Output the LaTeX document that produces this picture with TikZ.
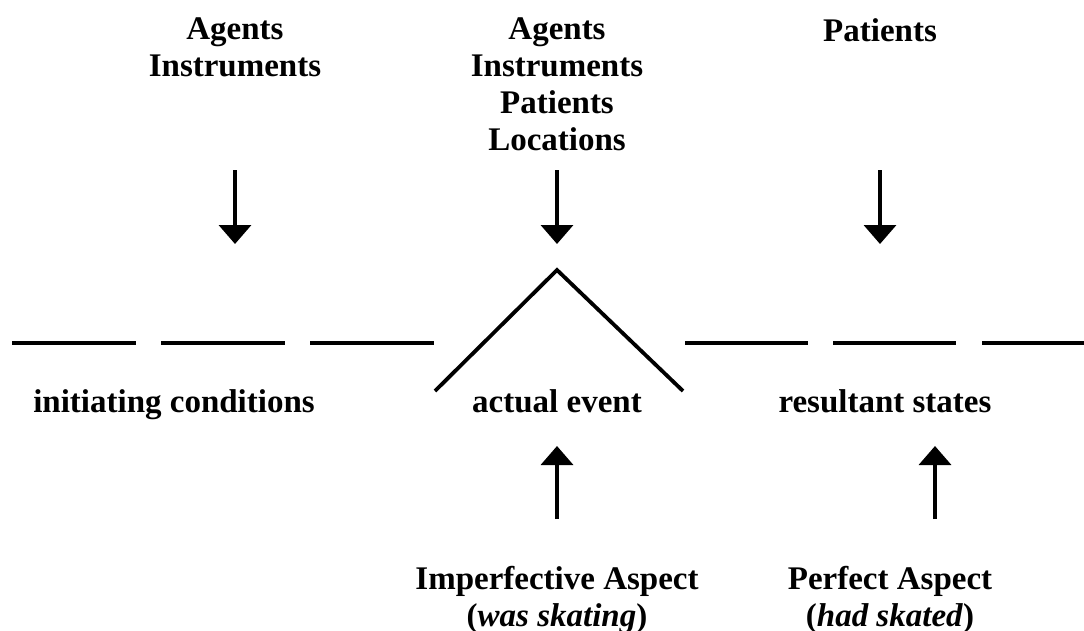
\documentclass[tikz,border=0pt]{standalone}
\usepackage{fontspec}
\setmainfont{Liberation Serif}
\usetikzlibrary{arrows.meta}
\tikzset{
  lbl/.style={font=\bfseries\fontsize{33}{37}\selectfont, align=center, inner sep=0pt},
  timeline/.style={line width=3.8pt},
  pointer/.style={line width=3.6pt, -{Triangle[width=32pt,length=19pt]}},
}
\begin{document}
\begin{tikzpicture}[x=1pt,y=-1pt]
\useasboundingbox (0,0) rectangle (1084,630);
% top labels
\node[lbl, anchor=north] (roleL) at (235,18) {Agents\\Instruments};
\node[lbl, anchor=north] (roleM) at (557,18) {Agents\\Instruments\\Patients\\Locations};
\node[lbl, anchor=north] (roleR) at (880,18) {Patients};
% arrow anchor coordinates
\coordinate (aLs) at (235,170); \coordinate (aLe) at (235,244);
\coordinate (aMs) at (557,170); \coordinate (aMe) at (557,244);
\coordinate (aRs) at (880,170); \coordinate (aRe) at (880,244);
\draw[pointer] (aLs) -- (aLe);
\draw[pointer] (aMs) -- (aMe);
\draw[pointer] (aRs) -- (aRe);
% timeline dashes
\coordinate (d1a) at (12,343); \coordinate (d1b) at (136,343);
\coordinate (d2a) at (161,343); \coordinate (d2b) at (285,343);
\coordinate (d3a) at (310,343); \coordinate (d3b) at (434,343);
\coordinate (d4a) at (685,343); \coordinate (d4b) at (808,343);
\coordinate (d5a) at (833,343); \coordinate (d5b) at (956,343);
\coordinate (d6a) at (982,343); \coordinate (d6b) at (1084,343);
\foreach \s in {1,...,6} \draw[timeline] (d\s a) -- (d\s b);
% event peak
\coordinate (pL) at (435,391); \coordinate (pT) at (557,270); \coordinate (pR) at (683,391);
\draw[timeline, line join=miter] (pL) -- (pT) -- (pR);
% phase labels
\node[lbl, anchor=base] (init) at (174,412) {initiating conditions};
\node[lbl, anchor=base] (event) at (557,412) {actual event};
\node[lbl, anchor=base] (result) at (885,412) {resultant states};
% bottom arrows
\coordinate (bMs) at (557,519); \coordinate (bMe) at (557,446);
\coordinate (bRs) at (935,519); \coordinate (bRe) at (935,446);
\draw[pointer] (bMs) -- (bMe);
\draw[pointer] (bRs) -- (bRe);
% aspect labels
\node[lbl, anchor=north] (imperf) at (557,566) {Imperfective Aspect\\(\textit{was skating})};
\node[lbl, anchor=north] (perf) at (890,566) {Perfect Aspect\\(\textit{had skated})};
\end{tikzpicture}
\end{document}
